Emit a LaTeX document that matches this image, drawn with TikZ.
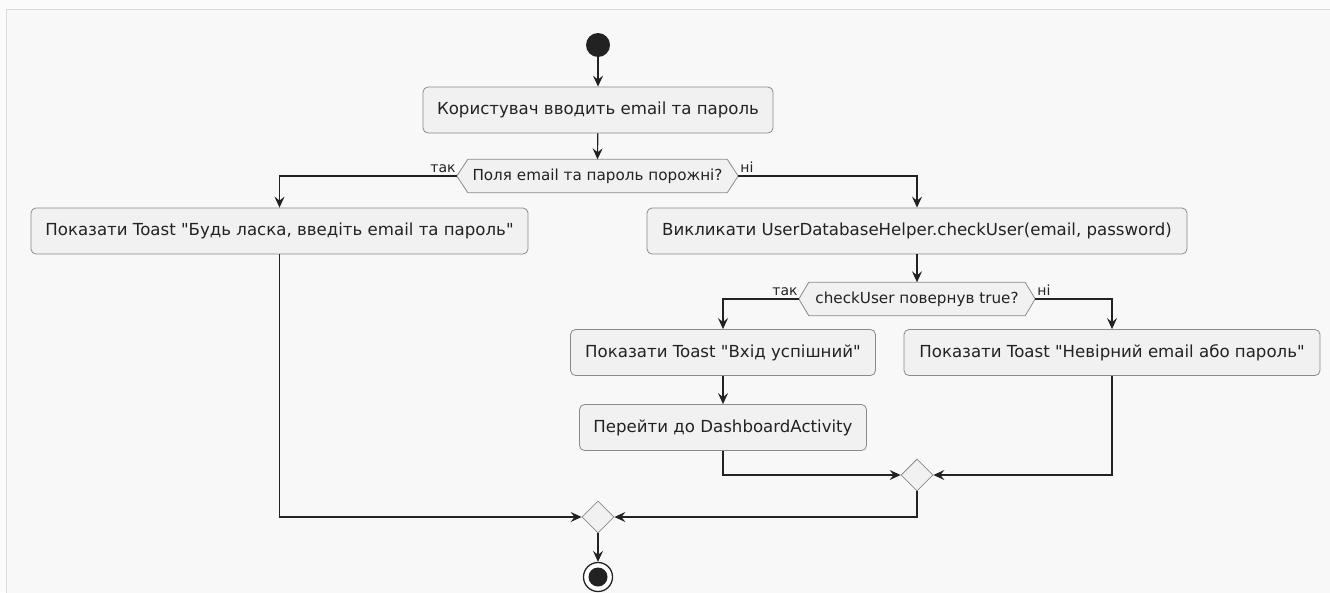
\documentclass[tikz,border=0pt]{standalone}
\usepackage{fontspec}
\setmainfont{DejaVu Sans}[Ligatures=TeXOff]
\usetikzlibrary{arrows.meta,shapes.geometric}
\definecolor{pagebg}{HTML}{FBFBFB}
\definecolor{canvas}{HTML}{F8F8F8}
\definecolor{frameline}{HTML}{DADADA}
\definecolor{boxfill}{HTML}{F1F1F1}
\definecolor{boxline}{HTML}{8A8A8A}
\definecolor{ink}{HTML}{222222}
\tikzset{
  actbox/.style={draw=boxline, fill=boxfill, line width=0.8pt, rounded corners=5pt,
    minimum height=46pt, inner sep=0pt, text=ink,
    font=\fontsize{16.6}{19}\selectfont},
  hexnode/.style={inner sep=0pt, minimum height=33pt, text=ink,
    font=\fontsize{15.2}{18}\selectfont},
  hexline/.style={draw=boxline, fill=boxfill, line width=0.8pt},
  mergenode/.style={diamond, draw=boxline, fill=boxfill, line width=0.8pt,
    minimum width=32pt, minimum height=32pt, inner sep=0pt},
  guard/.style={inner sep=0pt, text=ink, font=\fontsize{14}{16}\selectfont},
  arr/.style={draw=ink, line width=1.2pt,
    -{Stealth[length=11pt, width=10pt, inset=4pt]}},
}
\begin{document}
\begin{tikzpicture}[x=1pt, y=-1pt]
  % page and canvas frame
  \fill[pagebg] (0,0) rectangle (1330,592);
  \useasboundingbox (0,0) rectangle (1330,592);
  \filldraw[fill=canvas, draw=frameline, line width=1.6pt] (6.5,9.5) rectangle (1340,600);

  % start
  \node[circle, fill=ink, minimum size=24pt, inner sep=0pt] (start) at (598,45) {};

  % first action
  \node[actbox, minimum width=350pt] (b1) at (598,110) {Користувач вводить email та пароль};

  % first decision
  \node[hexnode, minimum width=281pt] (d1) at (597.5,176) {};
  \draw[hexline] (d1.west) -- ([xshift=11pt]d1.north west) -- ([xshift=-11pt]d1.north east)
     -- (d1.east) -- ([xshift=-11pt]d1.south east) -- ([xshift=11pt]d1.south west) -- cycle;
  \node[hexnode] at (d1) {Поля email та пароль порожні?};
  \node[guard, anchor=base east] (t1) at ([xshift=-1pt, yshift=4pt]d1.west) {так};
  \node[guard, anchor=base west] (n1) at ([xshift=2pt, yshift=4pt]d1.east) {ні};

  % branches of the first decision
  \node[actbox, minimum width=497pt] (b2) at (279.5,231) {Показати Toast "Будь ласка, введіть email та пароль"};
  \node[actbox, minimum width=540pt] (b3) at (917,231) {Викликати UserDatabaseHelper.checkUser(email, password)};

  % second decision
  \node[hexnode, minimum width=236pt] (d2) at (917,299) {};
  \draw[hexline] (d2.west) -- ([xshift=10pt]d2.north west) -- ([xshift=-10pt]d2.north east)
     -- (d2.east) -- ([xshift=-10pt]d2.south east) -- ([xshift=10pt]d2.south west) -- cycle;
  \node[hexnode] at (d2) {checkUser повернув true?};
  \node[guard, anchor=base east] (t2) at ([xshift=-1pt, yshift=4pt]d2.west) {так};
  \node[guard, anchor=base west] (n2) at ([xshift=2pt, yshift=4pt]d2.east) {ні};

  \node[actbox, minimum width=305pt] (b4) at (723,352.5) {Показати Toast "Вхід успішний"};
  \node[actbox, minimum width=416pt] (b6) at (1112,352.5) {Показати Toast "Невірний email або пароль"};
  \node[actbox, minimum width=287pt] (b5) at (723,427.5) {Перейти до DashboardActivity};

  % merges and end
  \node[mergenode] (m1) at (917,475) {};
  \node[mergenode] (m2) at (598,517) {};
  \node[circle, draw=ink, fill=white, line width=1.3pt, minimum size=29pt, inner sep=0pt] (stop) at (598,577) {};
  \node[circle, fill=ink, minimum size=19pt, inner sep=0pt] at (stop) {};

  % flows
  \draw[arr] (start) -- (b1);
  \draw[arr] (b1) -- (d1.north);
  \draw[arr] (d1.west) -| (b2.north);
  \draw[arr] (d1.east) -| (b3.north);
  \draw[arr] (b3) -- (d2.north);
  \draw[arr] (d2.west) -| (b4.north);
  \draw[arr] (d2.east) -| (b6.north);
  \draw[arr] (b4) -- (b5);
  \draw[arr] (b5.south) |- (m1.west);
  \draw[arr] (b6.south) |- (m1.east);
  \draw[arr] (m1.south) |- (m2.east);
  \draw[arr] (b2.south) |- (m2.west);
  \draw[arr] (m2) -- (stop);
\end{tikzpicture}
\end{document}
